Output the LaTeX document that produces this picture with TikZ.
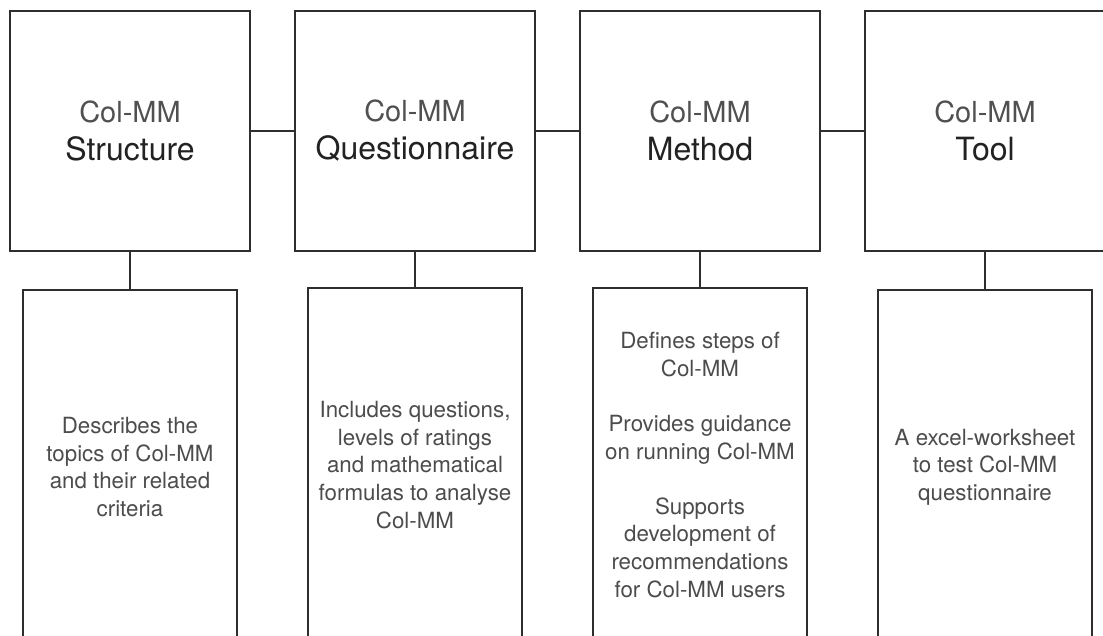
\documentclass[tikz,border=0pt]{standalone}
\usepackage{fontspec}
\setmainfont{TeX Gyre Heros}
\definecolor{linegray}{HTML}{2E2E2E}
\definecolor{titlecol}{HTML}{222222}
\definecolor{subcol}{HTML}{505050}
\definecolor{bodycol}{HTML}{4C4C4C}
\newcommand\colmmline{\fontsize{29}{38}\selectfont\color{subcol}}
\begin{document}
\begin{tikzpicture}[x=1pt,y=-1pt,
  frame/.style={draw=linegray, line width=1.4pt, fill=white},
  headbox/.style={frame, minimum width=240pt, minimum height=240pt,
    inner sep=0pt, align=center, font=\fontsize{32}{38}\selectfont, text=titlecol},
  infobox/.style={frame, minimum width=214pt, minimum height=354pt,
    inner sep=0pt, align=center, font=\fontsize{22.3}{27.6}\selectfont, text=bodycol},
  link/.style={draw=linegray, line width=1.4pt}]
\useasboundingbox (0,0) rectangle (1103,636);
\clip (0,0) rectangle (1103,636);

% component boxes
\node[headbox] (st) at (130,131) {{\colmmline Col-MM}\\Structure};
\node[headbox] (qu) at (415,131) {{\colmmline Col-MM}\\Questionnaire};
\node[headbox] (me) at (700,131) {{\colmmline Col-MM}\\Method};
\node[headbox] (to) at (985,131) {{\colmmline Col-MM}\\Tool};

% description boxes
\node[infobox] (std) at (130,467) {Describes the\\topics of Col-MM\\and their related\\criteria};
\node[infobox] (qud) at (415,465) {Includes questions,\\levels of ratings\\and mathematical\\formulas to analyse\\Col-MM};
\node[infobox] (med) at (700,465) {Defines steps of\\Col-MM\\[27.6pt]Provides guidance\\on running Col-MM\\[27.6pt]Supports\\development of\\recommendations\\for Col-MM users};
\node[infobox] (tod) at (985,467) {A excel-worksheet\\to test Col-MM\\questionnaire};

% connectors
\draw[link] (st.east) -- (qu.west);
\draw[link] (qu.east) -- (me.west);
\draw[link] (me.east) -- (to.west);
\draw[link] (st.south) -- (std.north);
\draw[link] (qu.south) -- (qud.north);
\draw[link] (me.south) -- (med.north);
\draw[link] (to.south) -- (tod.north);
\end{tikzpicture}
\end{document}
